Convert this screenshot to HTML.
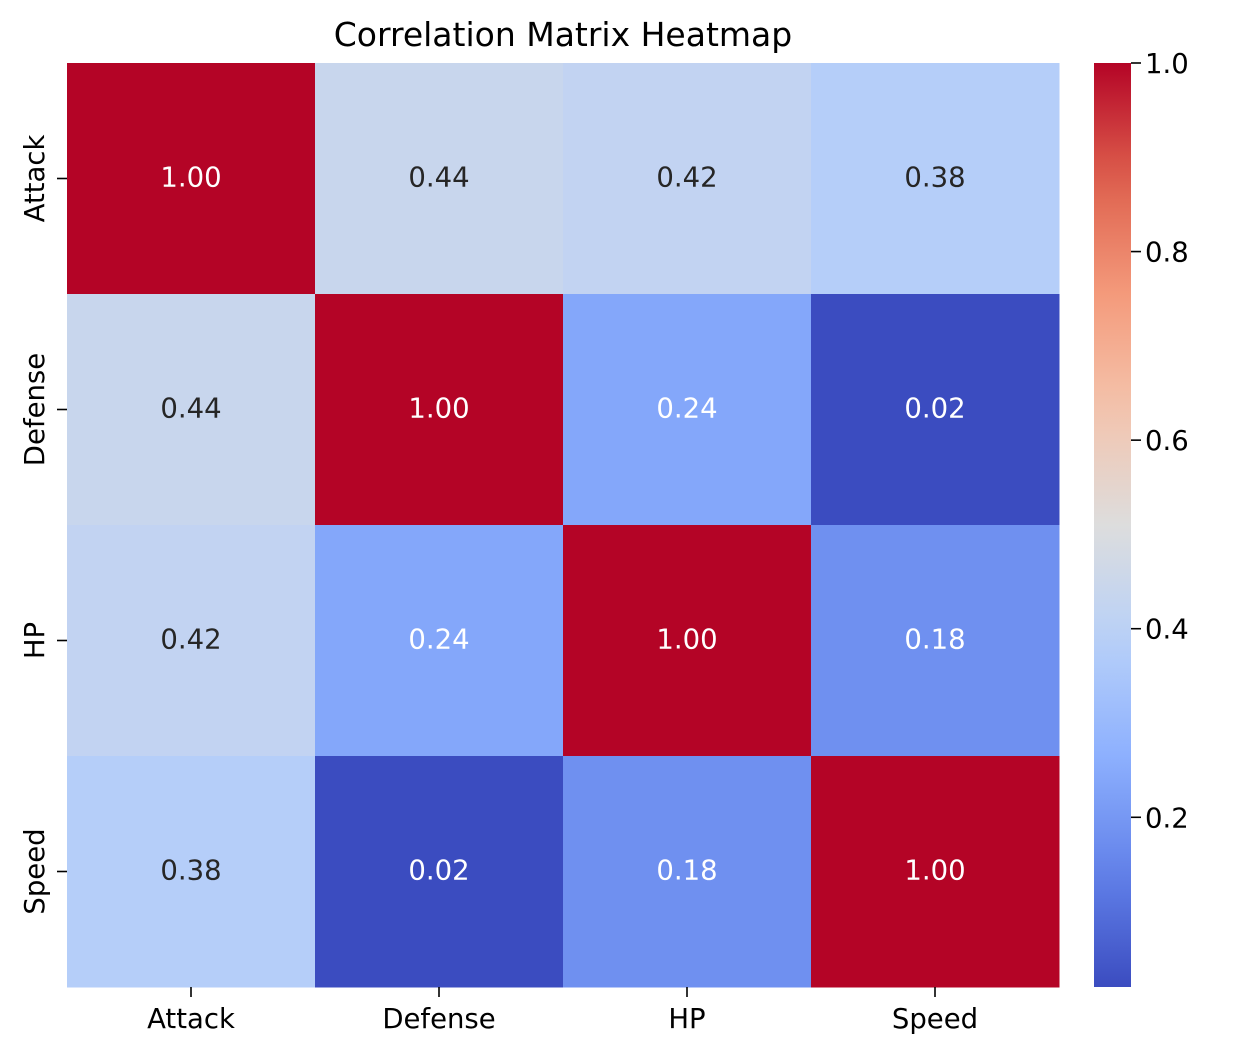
<!DOCTYPE html>
<html><head><meta charset="utf-8"><style>
body{margin:0;background:#fff;}
svg text{font-family:"DejaVu Sans","Liberation Sans",sans-serif;}
</style></head><body>
<svg id="chart" width="1251" height="1054" viewBox="0 0 1251 1054" xmlns="http://www.w3.org/2000/svg">
<defs><linearGradient id="cbgrad" x1="0" y1="1" x2="0" y2="0"></linearGradient></defs>
<text x="563" y="46" font-size="33" text-anchor="middle" fill="#000">Correlation Matrix Heatmap</text>
<g id="cells"></g><g id="xticks"></g><g id="yticks"></g>
<rect x="1094" y="63" width="37" height="924" fill="url(#cbgrad)"/>
<g id="cbticks"></g>
</svg>
<script>
const categories = ["Attack","Defense","HP","Speed"];
const values = [
 [1.00,0.44,0.42,0.38],
 [0.44,1.00,0.24,0.02],
 [0.42,0.24,1.00,0.18],
 [0.38,0.02,0.18,1.00]
];
const cbTicks = [0.2,0.4,0.6,0.8,1.0];
const vmin = 0.02, vmax = 1.0;

const NS="http://www.w3.org/2000/svg";
const X0=67,X1=1059,Y0=63,Y1=987;
const FS=27.5;
const cw=(X1-X0)/categories.length, ch=(Y1-Y0)/categories.length;
const stops=[[0,[59,76,192]],[0.125,[98,130,234]],[0.25,[141,176,254]],[0.375,[184,208,249]],[0.5,[221,221,221]],[0.625,[244,196,173]],[0.75,[244,154,123]],[0.875,[222,96,77]],[1,[180,4,38]]];
function cmap(t){t=Math.max(0,Math.min(1,t));for(let i=1;i<stops.length;i++){if(t<=stops[i][0]){const a=stops[i-1],b=stops[i],f=(t-a[0])/(b[0]-a[0]);return `rgb(${a[1].map((c,k)=>Math.round(c+(b[1][k]-c)*f)).join(',')})`;}}}
const norm=v=>(v-vmin)/(vmax-vmin);
const xs=i=>X0+i*cw, ys=i=>Y0+i*ch;
const cbY=v=>Y1-norm(v)*(Y1-Y0);
function mk(tag,attrs,parent){const e=document.createElementNS(NS,tag);for(const k in attrs)e.setAttribute(k,attrs[k]);parent.appendChild(e);return e;}
const cells=document.getElementById('cells');
values.forEach((row,r)=>row.forEach((v,c)=>{
 const t=norm(v);
 const rect=mk('rect',{x:xs(c),y:ys(r),width:cw+0.5,height:ch+0.5,fill:cmap(t)},cells);
 
 
 const tx=mk('text',{x:xs(c)+cw/2,y:ys(r)+ch/2+8,'font-size':FS,'text-anchor':'middle',fill:(t<0.25||t>0.75)?'#fff':'#262626'},cells);
 tx.textContent=v.toFixed(2);
 
 
}));
const xt=document.getElementById('xticks'), yt=document.getElementById('yticks');
categories.forEach((c,i)=>{
 mk('line',{x1:xs(i)+cw/2,x2:xs(i)+cw/2,y1:Y1,y2:Y1+10,stroke:'#000','stroke-width':1.6},xt);
 const t=mk('text',{x:xs(i)+cw/2,y:Y1+41,'font-size':FS,'text-anchor':'middle'},xt);
 t.textContent=c;
 
 
 const yc=ys(i)+ch/2;
 mk('line',{x1:X0-10,x2:X0,y1:yc,y2:yc,stroke:'#000','stroke-width':1.6},yt);
 const u=mk('text',{x:0,y:0,'font-size':FS,'text-anchor':'middle',transform:`translate(${X0-23},${yc}) rotate(-90)`},yt);
 u.textContent=c;
 
 
});
const g=document.getElementById('cbgrad');
for(let i=0;i<=20;i++){mk('stop',{offset:(i/20),'stop-color':cmap(i/20)},g);}
const cb=document.getElementById('cbticks');
cbTicks.forEach(v=>{
 const y=cbY(v);
 mk('line',{x1:1131,x2:1141,y1:y,y2:y,stroke:'#000','stroke-width':1.6},cb);
 const t=mk('text',{x:1145,y:y+10,'font-size':FS},cb);
 t.textContent=v.toFixed(1);
 
 
});
</script>
</body></html>
